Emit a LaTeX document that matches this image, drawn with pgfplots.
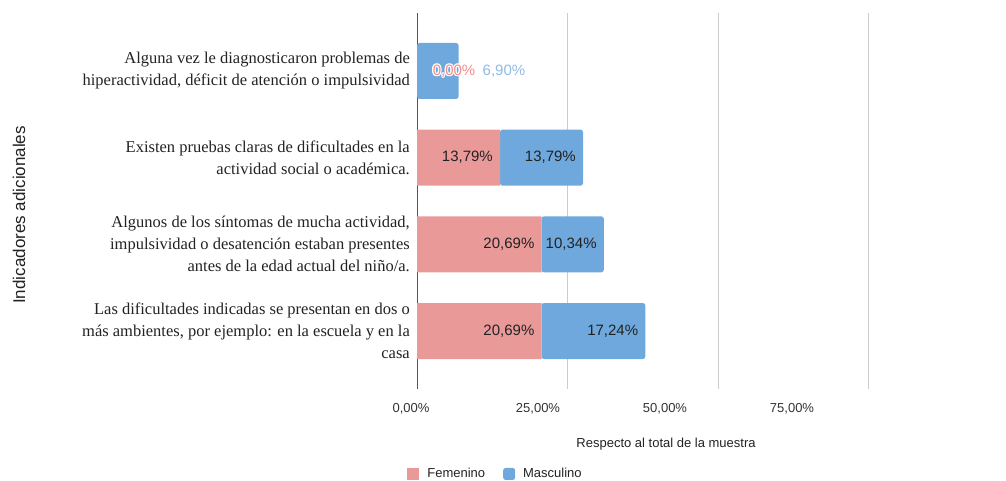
\documentclass[border=0pt]{standalone}
\usepackage{fontspec}
\setmainfont{Liberation Serif}
\newfontfamily\sansf{Liberation Sans}
\usepackage{pgfplots}
\pgfplotsset{compat=1.18}
\definecolor{fem}{HTML}{EA9999}
\definecolor{mas}{HTML}{6FA8DC}
\definecolor{femtxt}{HTML}{EE8E8E}
\definecolor{mastxt}{HTML}{8FBBE5}
\definecolor{gridc}{HTML}{CCCCCC}
\definecolor{axc}{HTML}{555555}
\definecolor{txt}{HTML}{222222}
\definecolor{tick}{HTML}{333333}
\tikzset{lab1/.style={font=\sansf\fontsize{15bp}{17bp}\selectfont, inner sep=0pt}}
\newcommand\halotext[3]{%
  \node[lab1,text=white,xshift=1.2bp] at (#1) {#3};
  \node[lab1,text=white,xshift=-1.2bp] at (#1) {#3};
  \node[lab1,text=white,yshift=1.2bp] at (#1) {#3};
  \node[lab1,text=white,yshift=-1.2bp] at (#1) {#3};
  \node[lab1,text=white,xshift=0.85bp,yshift=0.85bp] at (#1) {#3};
  \node[lab1,text=white,xshift=-0.85bp,yshift=0.85bp] at (#1) {#3};
  \node[lab1,text=white,xshift=0.85bp,yshift=-0.85bp] at (#1) {#3};
  \node[lab1,text=white,xshift=-0.85bp,yshift=-0.85bp] at (#1) {#3};
  \node[lab1,text=#2] at (#1) {#3};
}
\pgfplotsset{
  frame/.style={at={(417bp,92bp)}, anchor=south west,
    scale only axis, width=589bp, height=376bp,
    xmin=0, xmax=97.84, ymin=-0.669, ymax=3.669, y dir=reverse}
}
\begin{document}
\begin{tikzpicture}
\useasboundingbox (0,0) rectangle (1006bp,481bp);
\begin{axis}[
  frame,
  xbar stacked, bar width=0.646,
  ytick={0,1,2,3},
  yticklabels={
    {Alguna vez le diagnosticaron problemas de\\hiperactividad, déficit de atención o impulsividad},
    {Existen pruebas claras de dificultades en la\\actividad social o académica.},
    {Algunos de los síntomas de mucha actividad,\\impulsividad o desatención estaban presentes\\antes de la edad actual del niño/a.},
    {Las dificultades indicadas se presentan en dos o\\más ambientes, por ejemplo: en la escuela y en la\\casa}},
  yticklabel style={align=right, font=\fontsize{16.5bp}{22bp}\selectfont, text=txt, anchor=east, inner sep=0pt, xshift=-7bp},
  xtick={0,25,50,75},
  xticklabels={{\hspace*{-12bp}0,00\%},{\hspace*{-59bp}25,00\%},{\hspace*{-106bp}50,00\%},{\hspace*{-153bp}75,00\%}},
  xticklabel style={font=\sansf\fontsize{13bp}{15bp}\selectfont, text=tick, anchor=north, inner sep=0pt, yshift=-14bp},
  /pgf/number format/assume math mode=true,
  xmajorgrids, grid style={gridc, line width=1bp},
  axis line style={draw=none},
  major tick length=0pt,
  tick style={draw=none},
  xlabel={Respecto al total de la muestra},
  xlabel style={at={(axis description cs:0.4228,0)}, anchor=center, yshift=-55bp, font=\sansf\fontsize{13bp}{15bp}\selectfont, text=txt},
  ylabel={Indicadores adicionales},
  ylabel style={at={(axis description cs:-0.6757,0.463)}, anchor=center, font=\sansf\fontsize{17bp}{19bp}\selectfont, text=txt},
  legend style={at={(axis description cs:0.1333,-0.226)}, anchor=center, draw=none, fill=none, legend columns=2,
    font=\sansf\fontsize{13bp}{15bp}\selectfont, text=txt,
    /tikz/every odd column/.append style={column sep=6bp},
    /tikz/every even column/.append style={column sep=16bp}},
  legend image code/.code={\fill[#1] (0bp,-6bp) rectangle (12bp,6bp);},
]
\addplot[fill=fem, draw=none] coordinates {(0,0) (13.79,1) (20.69,2) (20.69,3)};
\addlegendentry{Femenino}
\addplot[fill=mas, draw=none, rounded corners=2.5bp] coordinates {(6.90,0) (13.79,1) (10.34,2) (17.24,3)};
\addlegendentry{Masculino}
\draw[axc, line width=1.3bp] (axis description cs:0,0) -- (axis description cs:0,1);
\coordinate (r1f) at (axis cs:6.15,0);
\coordinate (r1m) at (axis cs:14.45,0);
\end{axis}
% value labels (segment ends of the stacked bars)
\begin{axis}[
  frame, hide axis, clip=false,
  nodes near coords,
  point meta=explicit symbolic,
  every node near coord/.append style={anchor=east, inner sep=0pt, xshift=-7bp, font=\sansf\fontsize{15bp}{17bp}\selectfont, text=txt},
]
\addplot[draw=none, mark=none] coordinates {(13.79,1) [13,79\%] (20.69,2) [20,69\%] (20.69,3) [20,69\%]
  (27.58,1) [13,79\%] (31.03,2) [10,34\%] (37.93,3) [17,24\%]};
\end{axis}
\halotext{r1f}{femtxt}{0,00\%}
\halotext{r1m}{mastxt}{6,90\%}
\end{tikzpicture}
\end{document}
